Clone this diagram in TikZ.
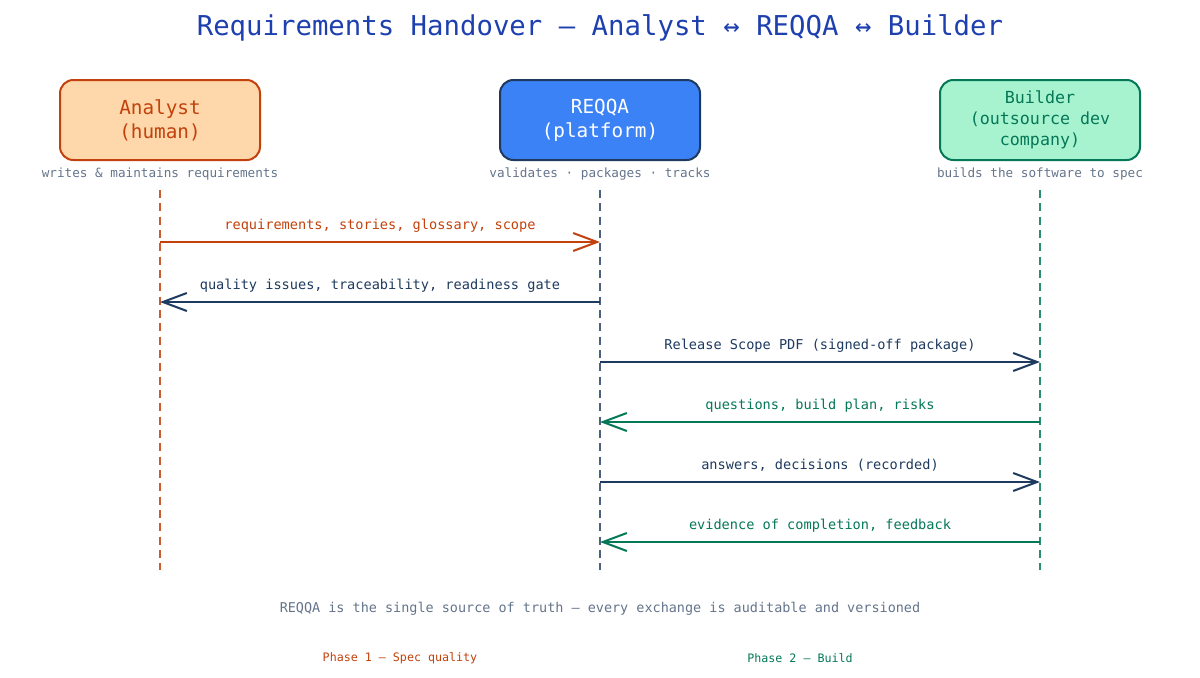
\documentclass[tikz,border=0pt]{standalone}
\usepackage{fontspec}
\setmainfont{DejaVu Sans Mono}
\usetikzlibrary{arrows.meta, positioning}
\usepackage{xcolor}

\definecolor{titleblue}{HTML}{1E40AF}
\definecolor{anfill}{HTML}{FED7AA}
\definecolor{anline}{HTML}{C2410C}
\definecolor{rqfill}{HTML}{3B82F6}
\definecolor{rqline}{HTML}{1E3A5F}
\definecolor{bdfill}{HTML}{A7F3D0}
\definecolor{bdline}{HTML}{047857}
\definecolor{note}{HTML}{64748B}

\tikzset{
  actor/.style={draw, rounded corners=10pt, line width=1.5pt, minimum width=150pt,
    minimum height=60pt, align=center, font=\fontsize{14.5}{18}\selectfont},
  sub/.style={text=note, inner sep=1pt, font=\fontsize{9.5}{11}\selectfont},
  life/.style={line width=1.1pt, dash pattern=on 6pt off 4pt},
  msg/.style={line width=1.5pt, -{Straight Barb[length=18pt,width=13.5pt]}},
  msglabel/.style={midway, anchor=base, yshift=9.5pt, font=\fontsize{10.2}{12}\selectfont}
}

\begin{document}
\begin{tikzpicture}[x=0.75pt, y=-0.75pt]
  \useasboundingbox (0,0) rectangle (1200,678);

  % Title
  \node (title) [text=titleblue, font=\fontsize{20.5}{24}\selectfont] at (600,28)
    {Requirements Handover — Analyst ↔ REQQA ↔ Builder};

  % Actors
  \node (analyst) [actor, fill=anfill, draw=anline, text=anline] at (160,120) {Analyst\\(human)};
  \node (reqqa) [actor, fill=rqfill, draw=rqline, text=white] at (600,120) {REQQA\\(platform)};
  \node (builder) [actor, fill=bdfill, draw=bdline, text=bdline,
    font=\fontsize{12.5}{15.75}\selectfont] at (1040,120) {Builder\\(outsource dev\\company)};

  \node (analystsub) [sub, below=4pt of analyst] {writes \& maintains requirements};
  \node (reqqasub) [sub, below=4pt of reqqa] {validates · packages · tracks};
  \node (buildersub) [sub, below=4pt of builder] {builds the software to spec};

  % Lifelines
  \coordinate (aTop) at (160,190);  \coordinate (aBot) at (160,570);
  \coordinate (rTop) at (600,190);  \coordinate (rBot) at (600,570);
  \coordinate (bTop) at (1040,190); \coordinate (bBot) at (1040,570);
  \draw[life, draw=anline!85] (aTop) -- (aBot);
  \draw[life, draw=rqline!80] (rTop) -- (rBot);
  \draw[life, draw=bdline!85] (bTop) -- (bBot);

  % Message points
  \coordinate (a1) at (160,242); \coordinate (r1) at (600,242);
  \coordinate (a2) at (160,302); \coordinate (r2) at (600,302);
  \coordinate (r3) at (600,362); \coordinate (b3) at (1040,362);
  \coordinate (r4) at (600,422); \coordinate (b4) at (1040,422);
  \coordinate (r5) at (600,482); \coordinate (b5) at (1040,482);
  \coordinate (r6) at (600,542); \coordinate (b6) at (1040,542);

  % Phase 1
  \draw[msg, draw=anline] (a1) -- node[msglabel, text=anline] {requirements, stories, glossary, scope} (r1);
  \draw[msg, draw=rqline] (r2) -- node[msglabel, text=rqline] {quality issues, traceability, readiness gate} (a2);

  % Phase 2
  \draw[msg, draw=rqline] (r3) -- node[msglabel, text=rqline] {Release Scope PDF (signed-off package)} (b3);
  \draw[msg, draw=bdline] (b4) -- node[msglabel, text=bdline] {questions, build plan, risks} (r4);
  \draw[msg, draw=rqline] (r5) -- node[msglabel, text=rqline] {answers, decisions (recorded)} (b5);
  \draw[msg, draw=bdline] (b6) -- node[msglabel, text=bdline] {evidence of completion, feedback} (r6);

  % Footer
  \node (footer) [text=note, font=\fontsize{10.1}{12}\selectfont] at (600,609)
    {REQQA is the single source of truth — every exchange is auditable and versioned};
  \node (phase1) [text=anline, font=\fontsize{8.75}{10}\selectfont] at (400,658) {Phase 1 — Spec quality};
  \node (phase2) [text=bdline, font=\fontsize{8.75}{10}\selectfont] at (800,658) {Phase 2 — Build};
\end{tikzpicture}
\end{document}
